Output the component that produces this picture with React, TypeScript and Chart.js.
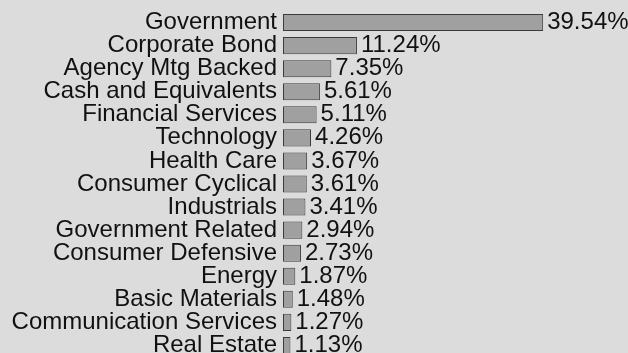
import React, { useEffect, useRef } from "react";
import { Chart, registerables } from "chart.js";

Chart.register(...registerables);

const categories = [
  "Government",
  "Corporate Bond",
  "Agency Mtg Backed",
  "Cash and Equivalents",
  "Financial Services",
  "Technology",
  "Health Care",
  "Consumer Cyclical",
  "Industrials",
  "Government Related",
  "Consumer Defensive",
  "Energy",
  "Basic Materials",
  "Communication Services",
  "Real Estate",
];

const weights = [39.54, 11.24, 7.35, 5.61, 5.11, 4.26, 3.67, 3.61, 3.41, 2.94, 2.73, 1.87, 1.48, 1.27, 1.13];

const FONT = "'Liberation Sans', Arial, sans-serif";
const BG = "#dcdcdc";

const valueLabels = {
  id: "valueLabels",
  afterDatasetsDraw(chart: any) {
    const ctx = chart.ctx;
    const meta = chart.getDatasetMeta(0);
    ctx.save();
    ctx.font = `24px ${FONT}`;
    ctx.fillStyle = "#111111";
    ctx.textAlign = "left";
    ctx.textBaseline = "middle";
    meta.data.forEach((bar: any, i: number) => {
      const v = chart.data.datasets[0].data[i] as number;
      ctx.fillText(v.toFixed(2) + "%", bar.x + 4, bar.y);
    });
    ctx.restore();
  },
};

export default function App() {
  const ref = useRef<HTMLCanvasElement | null>(null);

  useEffect(() => {
    document.body.style.margin = "0";
    document.body.style.background = BG;
    document.body.style.overflow = "hidden";
    const canvas = ref.current;
    if (!canvas) return;
    const chart = new Chart(canvas, {
      type: "bar",
      data: {
        labels: categories,
        datasets: [
          {
            data: weights,
            backgroundColor: "#a0a0a0",
            borderColor: "#3a3a3a",
            borderWidth: 1,
            borderSkipped: false,
            barPercentage: 0.74,
            categoryPercentage: 1,
          },
        ],
      },
      options: {
        indexAxis: "y",
        responsive: false,
        animation: false,
        events: [],
        layout: { padding: { top: 11, right: 16, left: 0, bottom: 0 } },
        plugins: {
          legend: { display: false },
          tooltip: { enabled: false },
          title: { display: false },
        },
        scales: {
          x: {
            display: false,
            min: 0,
            max: 50,
          },
          y: {
            grid: { display: false, drawTicks: false },
            border: { display: false },
            ticks: {
              autoSkip: false,
              padding: 6,
              color: "#111111",
              font: { family: FONT, size: 24, lineHeight: 1 },
            },
            afterFit(scale: any) {
              scale.width = 283;
              scale.paddingTop = 0;
              scale.paddingBottom = 0;
            },
          },
        },
      },
      plugins: [valueLabels],
    });
    return () => chart.destroy();
  }, []);

  return (
    <div style={{ width: 628, height: 353, overflow: "hidden", background: BG }}>
      <canvas ref={ref} width={628} height={357} style={{ display: "block" }} />
    </div>
  );
}
